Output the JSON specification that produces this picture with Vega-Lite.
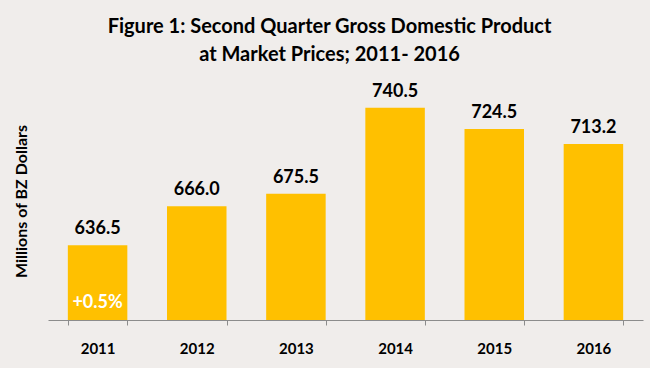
{
  "$schema": "https://vega.github.io/schema/vega-lite/v6.json",
  "autosize": {"type": "none"},
  "width": 595,
  "height": 238,
  "padding": {"left": 48, "top": 82, "right": 7, "bottom": 48},
  "background": "#F0EDEB",
  "title": {
    "text": ["Figure 1: Second Quarter Gross Domestic Product", "at Market Prices; 2011- 2016"],
    "font": "Lato",
    "fontSize": 20,
    "fontWeight": "bold",
    "color": "#000000",
    "anchor": "middle",
    "lineHeight": 28,
    "dx": -16,
    "offset": 17
  },
  "data": {
    "values": [
      {"year": "2011", "gdp": 636.5, "label": "636.5", "note": "+0.5%"},
      {"year": "2012", "gdp": 666.0, "label": "666.0", "note": ""},
      {"year": "2013", "gdp": 675.5, "label": "675.5", "note": ""},
      {"year": "2014", "gdp": 740.5, "label": "740.5", "note": ""},
      {"year": "2015", "gdp": 724.5, "label": "724.5", "note": ""},
      {"year": "2016", "gdp": 713.2, "label": "713.2", "note": ""}
    ]
  },
  "encoding": {
    "x": {
      "field": "year",
      "type": "nominal",
      "scale": {"paddingInner": 0.4, "paddingOuter": 0.2},
      "axis": {
        "title": null,
        "labelAngle": 0,
        "labelFont": "Lato",
        "labelFontSize": 15,
        "labelFontWeight": "bold",
        "labelColor": "#000000",
        "labelPadding": 16,
        "domainColor": "#8C8C8C",
        "tickColor": "#8C8C8C",
        "tickSize": 5,
        "tickBand": "extent"
      }
    }
  },
  "layer": [
    {
      "mark": {"type": "bar", "color": "#FFC000"},
      "encoding": {
        "y": {
          "field": "gdp",
          "type": "quantitative",
          "scale": {"domain": [580, 760], "zero": false, "nice": false},
          "axis": {
            "title": "Millions of BZ Dollars",
            "titleFont": "Lato",
            "titleFontSize": 16,
            "titleFontWeight": "bold",
            "titleColor": "#000000",
            "titlePadding": 19,
            "domain": false,
            "ticks": false,
            "labels": false,
            "grid": false
          }
        },
        "y2": {"datum": 580}
      }
    },
    {
      "mark": {"type": "text", "font": "Lato", "fontSize": 18, "fontWeight": "bold", "color": "#000000", "baseline": "alphabetic", "dy": -11},
      "encoding": {
        "y": {"field": "gdp", "type": "quantitative"},
        "text": {"field": "label"}
      }
    },
    {
      "mark": {"type": "text", "font": "Lato", "fontSize": 18, "fontWeight": "bold", "color": "#FFFFFF", "baseline": "middle", "dy": -17},
      "encoding": {
        "y": {"datum": 580},
        "text": {"field": "note"}
      }
    }
  ],
  "config": {"view": {"stroke": null}}
}
